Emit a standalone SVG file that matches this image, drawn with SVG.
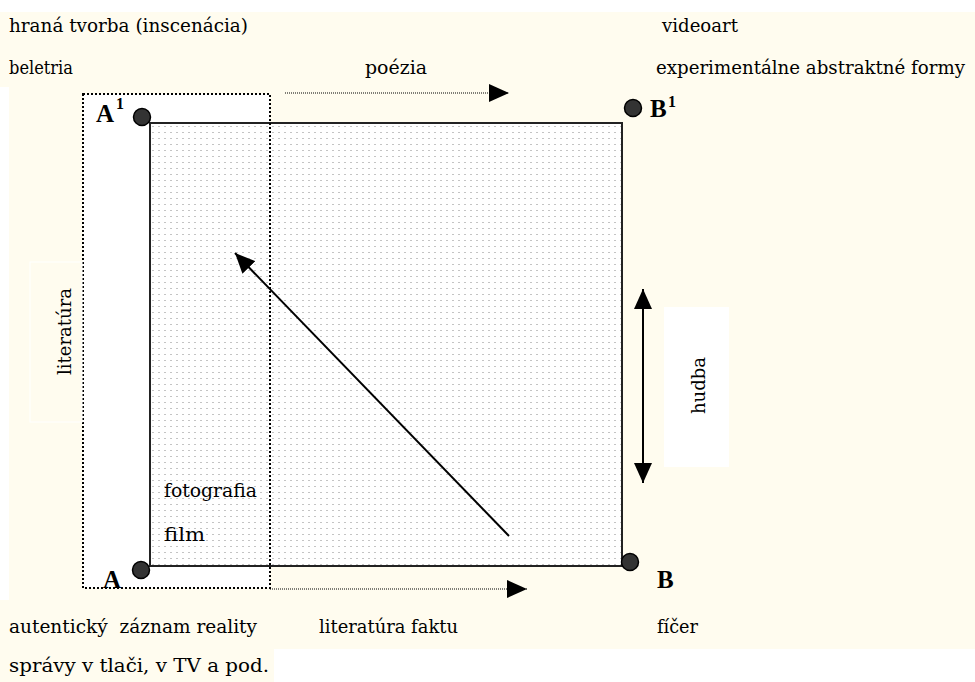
<svg xmlns="http://www.w3.org/2000/svg" width="975" height="682" viewBox="0 0 975 682">
<style>
.t{font-family:"DejaVu Serif","Liberation Serif",serif;font-size:19px;fill:#000}
.b{font-family:"Liberation Serif","Times New Roman",serif;font-weight:bold;fill:#000}
.dot{fill:#333;stroke:#000;stroke-width:1.5}
.cream{fill:#FFFCEF}
.dl{fill:none;stroke:#000;stroke-width:1.2;stroke-dasharray:1 1}
.sl{fill:none;stroke:#000;stroke-width:2}
</style>
<defs>
<pattern id="grid" x="150" y="123" width="6" height="6" patternUnits="userSpaceOnUse">
<rect width="6" height="6" fill="#fff"/>
<rect x="2" y="3" width="2" height="1" fill="#c4c4c4"/>
</pattern>
<marker id="tri" markerUnits="userSpaceOnUse" markerWidth="20" markerHeight="18" refX="20" refY="9" orient="auto-start-reverse" viewBox="0 0 20 18">
<path d="M0,0 L20,9 L0,18 z" fill="#000"/>
</marker>
</defs>

<g id="background">
<rect class="cream" x="9" y="12" width="966" height="637"/>
<rect class="cream" x="0" y="12" width="9" height="75"/>
<rect class="cream" x="0" y="600" width="9" height="49"/>
<rect class="cream" x="0" y="649" width="274" height="33"/>
</g>

<g id="literatura-range-fill">
<rect x="83" y="94" width="187" height="494" fill="#fff"/>
</g>

<g id="square">
<rect x="150" y="123" width="472" height="443" fill="url(#grid)" stroke="#222" stroke-width="2"/>
</g>

<g id="literatura-range">
<rect x="83" y="94" width="187" height="494" fill="none" stroke="#000" stroke-width="2" stroke-dasharray="2 2"/>
</g>

<g id="connectors">
<line class="dl" x1="285" y1="93" x2="509" y2="93" marker-end="url(#tri)"/>
<line class="dl" x1="270" y1="589" x2="527" y2="589" marker-end="url(#tri)"/>
<line class="sl" x1="643" y1="289" x2="643" y2="483" marker-start="url(#tri)" marker-end="url(#tri)"/>
<line class="sl" x1="509" y1="536" x2="235" y2="253" marker-end="url(#tri)"/>
</g>

<g id="node-A1">
<circle class="dot" cx="142" cy="117" r="8.5"/>
<text class="b" x="96" y="122" font-size="25">A</text>
<text class="b" x="116" y="109" font-size="16">1</text>
</g>
<g id="node-B1">
<circle class="dot" cx="633" cy="108" r="8.5"/>
<text class="b" x="650" y="117" font-size="25">B</text>
<text class="b" x="668" y="107" font-size="16">1</text>
</g>
<g id="node-A">
<circle class="dot" cx="141" cy="570" r="8.5"/>
<text class="b" x="103" y="588" font-size="25">A</text>
</g>
<g id="node-B">
<circle class="dot" cx="630" cy="562" r="8.5"/>
<text class="b" x="657" y="588" font-size="25">B</text>
</g>

<g id="label-literatura">
<rect class="cream" x="30" y="262" width="52" height="160" stroke="#fff" stroke-width="1"/>
<text class="t" transform="translate(71,375) rotate(-90)" textLength="87" lengthAdjust="spacingAndGlyphs">literatúra</text>
</g>
<g id="label-hudba">
<rect x="664" y="307" width="65" height="160" fill="#fff"/>
<text class="t" transform="translate(705,414) rotate(-90)" textLength="57" lengthAdjust="spacingAndGlyphs">hudba</text>
</g>

<g id="labels">
<text class="t" x="9" y="32" textLength="239" lengthAdjust="spacingAndGlyphs">hraná tvorba (inscenácia)</text>
<text class="t" x="9" y="74" font-size="17" textLength="64" lengthAdjust="spacingAndGlyphs">beletria</text>
<text class="t" x="365" y="74" textLength="62" lengthAdjust="spacingAndGlyphs">poézia</text>
<text class="t" x="662" y="32" textLength="76" lengthAdjust="spacingAndGlyphs">videoart</text>
<text class="t" x="656" y="74" font-size="16.5" textLength="309" lengthAdjust="spacingAndGlyphs">experimentálne abstraktné formy</text>
<text class="t" x="164" y="497" textLength="93" lengthAdjust="spacingAndGlyphs">fotografia</text>
<text class="t" x="164" y="541" textLength="41" lengthAdjust="spacingAndGlyphs">film</text>
<text class="t" x="9" y="633" textLength="248" lengthAdjust="spacingAndGlyphs">autentický&#160; záznam reality</text>
<text class="t" x="319" y="633" textLength="139" lengthAdjust="spacingAndGlyphs">literatúra faktu</text>
<text class="t" x="657" y="633" textLength="41" lengthAdjust="spacingAndGlyphs">fíčer</text>
<text class="t" x="9" y="672" textLength="260" lengthAdjust="spacingAndGlyphs">správy v tlači, v TV a pod.</text>
</g>
</svg>
